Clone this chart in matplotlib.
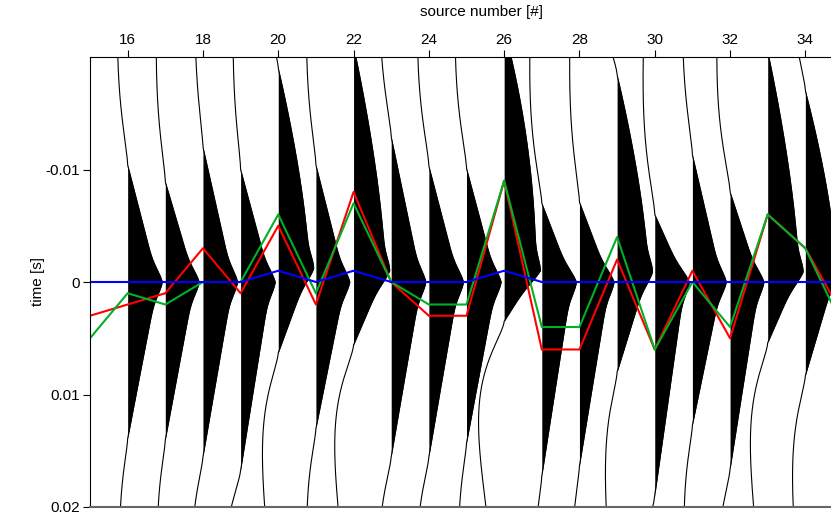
# wiggle display of the shot gathers with the three pick curves

import numpy as np
import matplotlib.pyplot as plt

plt.rcParams['font.family'] = ['Liberation Sans', 'DejaVu Sans']

# traces, one per source number
sources = list(range(16, 35))
# zero crossings of the positive lobe (s)
up_cross = [-0.0104, -0.0089, -0.012, -0.010, -0.019, -0.0104, -0.021, -0.0129, -0.0103, -0.0101,
            -0.0225, -0.007, -0.0071, -0.0184, -0.006, -0.0113, -0.008, -0.0205, -0.017]
lo_cross = [0.0139, 0.014, 0.0155, 0.0167, 0.0063, 0.013, 0.0056, 0.0155, 0.0155, 0.0143,
            0.0035, 0.0172, 0.0163, 0.008, 0.019, 0.0127, 0.0166, 0.0054, 0.0083]
# time of the peak of each trace (s)
peak_time = [0, 0, 0, 0, -0.0012, 0, -0.001, 0, 0, 0,
             -0.001, 0, 0, -0.0009, 0, 0, 0, -0.0009, -0.001]
# height of the broad lobe and how rounded its early flank is
hump_height = [0.8, 0.78, 0.8, 0.8, 0.82, 0.78, 0.84, 0.8, 0.8, 0.8,
               0.84, 0.8, 0.8, 0.82, 0.8, 0.78, 0.78, 0.82, 0.82]
hump_power = [1.0, 1.0, 1.0, 1.0, 1.5, 1.0, 1.5, 1.0, 1.0, 1.0,
              2.0, 1.0, 1.0, 1.5, 1.0, 1.0, 1.0, 1.5, 1.5]
# depth of the negative side lobes (trace spacing units)
up_depth = [0.27, 0.24, 0.21, 0.2, 0.5, 0.25, 0.5, 0.3, 0.3, 0.3,
            0.5, 0.32, 0.26, 0.6, 0.31, 0.26, 0.35, 0.5, 0.42]
lo_depth = [0.21, 0.21, 0.29, 0.43, 0.42, 0.24, 0.5, 0.32, 0.31, 0.21,
            0.68, 0.2, 0.2, 0.31, 0.4, 0.22, 0.32, 0.46, 0.34]

# picked times (s)
pick_x = list(range(15, 36))
blue_pick = [0, 0, 0, 0, 0, -0.001, 0, -0.001, 0, 0, 0,
             -0.001, 0, 0, 0, 0, 0, 0, 0, 0, 0]
red_pick = [0.003, 0.002, 0.001, -0.003, 0.001, -0.005, 0.002, -0.008, 0, 0.003, 0.003,
            -0.009, 0.006, 0.006, -0.002, 0.006, -0.001, 0.005, -0.006, -0.003, 0.003]
green_pick = [0.005, 0.001, 0.002, 0, 0, -0.006, 0.001, -0.007, 0, 0.002, 0.002,
              -0.009, 0.004, 0.004, -0.004, 0.006, 0, 0.004, -0.006, -0.003, 0.004]

BULGE = 0.12


def lobe(x):
    return x ** 1.5 * np.exp(1.5 * (1 - x))


def trace_shape(t, tu, tl, tp, h, q, nu, nl):
    v = np.where(t < tp,
                 h * (1 - np.clip((tp - t) / (tp - tu), 0, 1) ** q),
                 h * (1 - np.clip((t - tp) / (tl - tp), 0, 1)))
    v = v + BULGE * np.exp(-((t - tp) / 0.0015) ** 2)
    before = t < tu
    v[before] = -nu * lobe((tu - t[before]) / 0.012)
    after = t > tl
    v[after] = -nl * lobe((t[after] - tl) / 0.009)
    return v


t = np.linspace(-0.02, 0.02, 1201)

fig = plt.figure(figsize=(8.31, 5.16), dpi=100)
ax = fig.add_axes([90 / 831, 9 / 516, 741 / 831, 450 / 516])

for i, k in enumerate(sources):
    v = trace_shape(t, up_cross[i], lo_cross[i], peak_time[i],
                    hump_height[i], hump_power[i], up_depth[i], lo_depth[i])
    ax.fill_betweenx(t, k, k + v, where=v > 0, interpolate=True, color='k', lw=0)
    ax.plot(k + v, t, color='k', lw=0.8)

ax.plot(pick_x, red_pick, color='#ff0000', lw=1.5)
ax.plot(pick_x, green_pick, color='#00b025', lw=1.5)
ax.plot(pick_x, blue_pick, color='#0000ff', lw=1.5)

ax.set_xlim(15, 15 + 741 / 37.65)
ax.set_ylim(0.02, -0.02)
ax.xaxis.tick_top()
ax.xaxis.set_label_position('top')
ax.set_xticks(range(16, 35, 2))
ax.set_yticks([-0.01, 0, 0.01, 0.02])
ax.set_yticklabels(['-0.01', '0', '0.01', '0.02'])
ax.tick_params(labelsize=11, direction='out', length=5, pad=2)
ax.set_xlabel('source number [#]', fontsize=11)
ax.set_ylabel('time [s]', fontsize=11)
ax.xaxis.set_label_coords((481 - 90) / 741, 1.09)
ax.yaxis.set_label_coords((45 - 90) / 741, 0.5)
ax.spines['right'].set_visible(False)
ax.spines['bottom'].set_color('#666666')
ax.spines['bottom'].set_linewidth(1.5)

fig.savefig('out.png', dpi=100)
